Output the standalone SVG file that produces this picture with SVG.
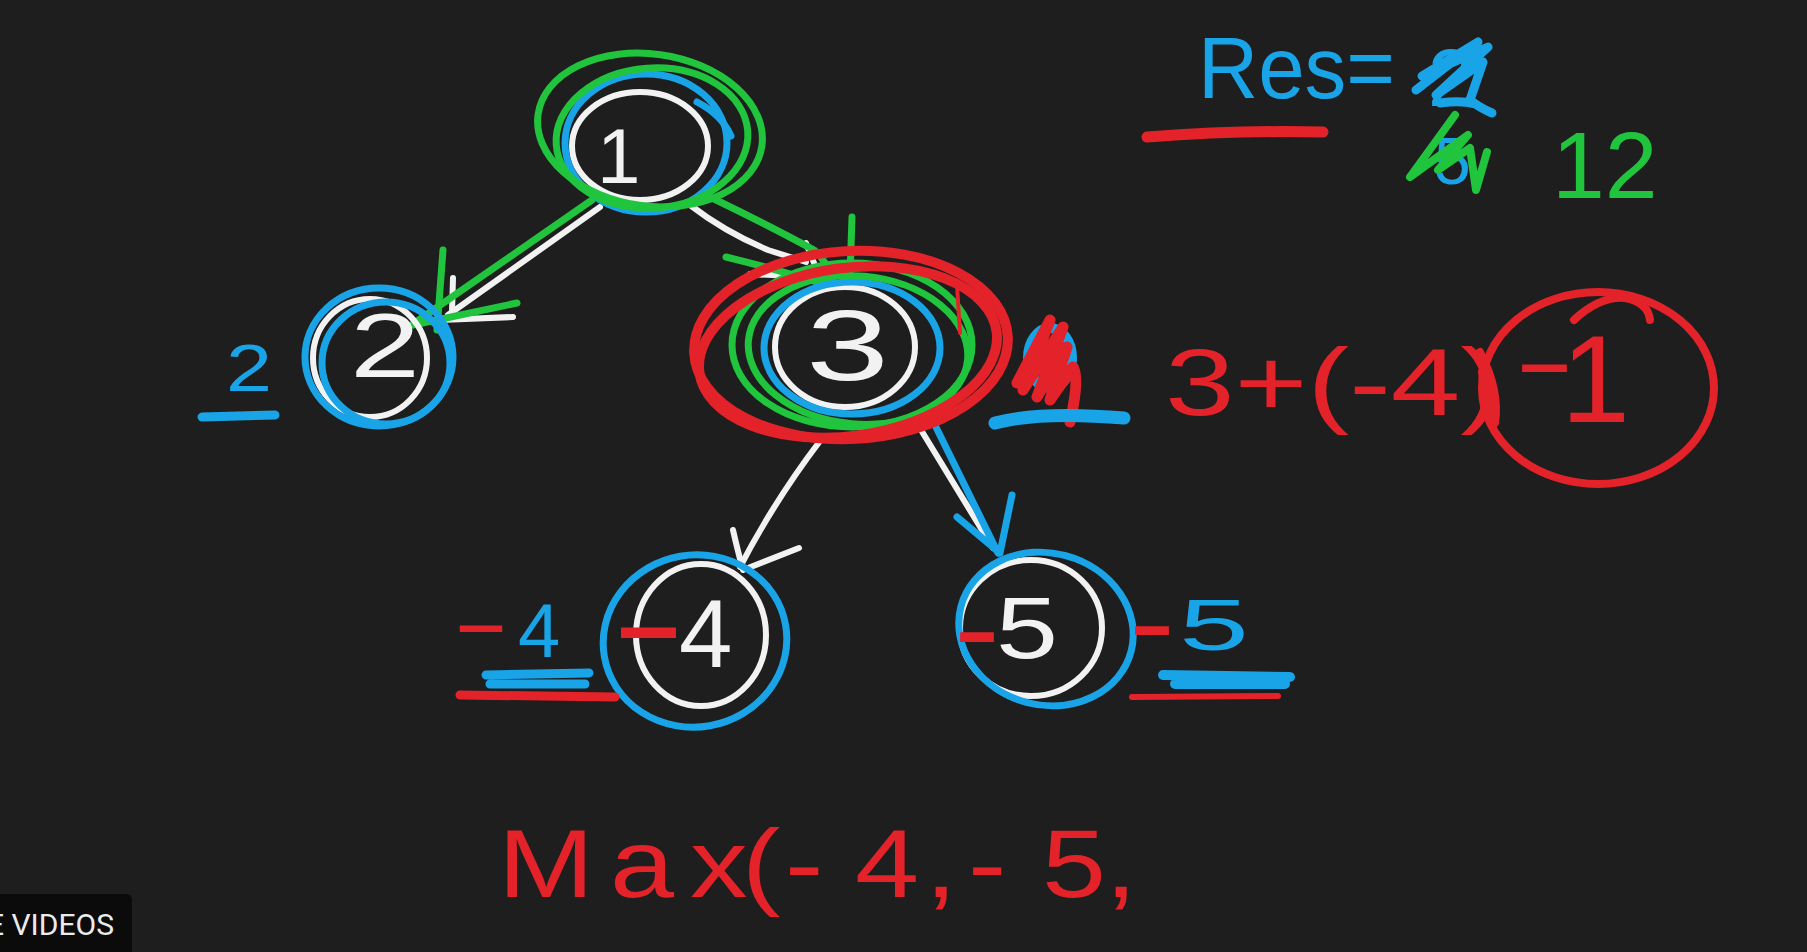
<svg xmlns="http://www.w3.org/2000/svg" width="1807" height="952" viewBox="0 0 1807 952">
<style>
.w{fill:none;stroke:#f2f2f2;stroke-width:6;stroke-linecap:round;stroke-linejoin:round}
.b{fill:none;stroke:#19a4e8;stroke-width:7;stroke-linecap:round;stroke-linejoin:round}
.g{fill:none;stroke:#20c53d;stroke-width:7;stroke-linecap:round;stroke-linejoin:round}
.r{fill:none;stroke:#e4222a;stroke-width:8;stroke-linecap:round;stroke-linejoin:round}
text{font-family:"Liberation Sans",Arial,sans-serif}
.tw{fill:#f2f2f2}.tb{fill:#19a4e8}.tg{fill:#20c53d}.tr{fill:#e4222a}
</style>
<rect width="1807" height="952" fill="#1e1e1e"/>

<g id="connectors">
  <!-- 1 -> 2 -->
  <path class="w" d="M600,207 L448,315"/>
  <path class="w" d="M453,278 L452,312 M440,320 L513,317"/>
  <path class="g" d="M592,200 L413,324"/>
  <path class="g" d="M443,250 L437,330 M413,325 L517,303"/>
  <!-- 1 -> 3 -->
  <path class="w" d="M690,205 Q725,232 768,250 L806,262"/>
  <path class="w" d="M806,243 L816,268 M750,274 L815,277"/>
  <path class="g" d="M712,198 Q770,226 814,250 Q828,262 833,283"/>
  <path class="g" d="M852,217 L850,276 M726,257 Q780,270 833,287"/>
  <circle cx="829" cy="283" r="8" fill="#20c53d"/>
  <!-- 3 -> 4 -->
  <path class="w" d="M820,441 Q775,500 740,567"/>
  <path class="w" d="M733,530 Q738,552 743,570 L799,548"/>
  <!-- 3 -> 5 -->
  <path class="w" d="M918,425 L993,548"/>
  <path class="b" d="M931,417 L998,553"/>
  <path class="b" d="M1012,495 L1000,553 M957,517 L1000,553"/>
</g>

<g id="node-1">
  <ellipse class="w" cx="640" cy="146" rx="68" ry="54"/>
  <ellipse class="b" cx="646" cy="143" rx="81" ry="69"/>
  <path class="b" d="M697,102 Q722,115 731,136"/>
  <ellipse class="g" cx="650" cy="130" rx="113" ry="76" transform="rotate(8 650 130)"/>
  <ellipse class="g" cx="652" cy="138" rx="96" ry="70" transform="rotate(-4 652 138)"/>
  <text class="tw" x="597" y="183" font-size="78">1</text>
</g>

<g id="node-2">
  <ellipse class="w" cx="370" cy="358" rx="57" ry="59"/>
  <ellipse class="b" cx="379" cy="357" rx="74" ry="69"/>
  <ellipse class="b" cx="386" cy="363" rx="64" ry="61"/>
  <text class="tw" x="350" y="377" font-size="90" textLength="70" lengthAdjust="spacingAndGlyphs">2</text>
</g>

<g id="node-3">
  <ellipse class="w" cx="845" cy="347" rx="70" ry="60"/>
  <ellipse class="b" cx="852" cy="348" rx="88" ry="66"/>
  <ellipse class="g" cx="852" cy="345" rx="120" ry="82"/>
  <ellipse class="g" cx="858" cy="350" rx="110" ry="74" transform="rotate(5 858 350)"/>
  <ellipse class="r" cx="851" cy="345" rx="157" ry="94" transform="rotate(-3 851 345)" style="stroke-width:10"/>
  <ellipse class="r" cx="848" cy="352" rx="150" ry="84" transform="rotate(-8 848 352)" style="stroke-width:10"/>
  <path class="r" d="M957,285 L960,333" style="stroke-width:4"/>
  <text class="tw" x="806" y="380" font-size="100" textLength="83" lengthAdjust="spacingAndGlyphs">3</text>
</g>

<g id="node-4">
  <ellipse class="w" cx="701" cy="635" rx="65" ry="71"/>
  <ellipse class="b" cx="695" cy="641" rx="92" ry="86" transform="rotate(-10 695 641)"/>
  <text class="tr" x="611" y="669" font-size="135" textLength="75" lengthAdjust="spacingAndGlyphs">-</text>
  <text class="tw" x="679" y="667" font-size="96">4</text>
</g>

<g id="node-5">
  <ellipse class="w" cx="1031" cy="628" rx="71" ry="68"/>
  <ellipse class="b" cx="1046" cy="629" rx="88" ry="76" transform="rotate(15 1046 629)"/>
  <text class="tr" x="954" y="670" font-size="124" textLength="46" lengthAdjust="spacingAndGlyphs">-</text>
  <text class="tw" x="996" y="658" font-size="88" textLength="62" lengthAdjust="spacingAndGlyphs">5</text>
</g>

<g id="label-node-2">
  <text class="tb" x="226" y="391" font-size="66" textLength="46" lengthAdjust="spacingAndGlyphs">2</text>
  <path class="b" d="M202,417 L275,415" style="stroke-width:9"/>
</g>

<g id="label-node-4">
  <text class="tr" x="452" y="651" font-size="84" textLength="58" lengthAdjust="spacingAndGlyphs">-</text>
  <text class="tb" x="518" y="657" font-size="76">4</text>
  <path class="b" d="M486,675 L589,673 M490,684 L585,684" style="stroke-width:9"/>
  <path class="r" d="M460,695 L615,697" style="stroke-width:9"/>
</g>

<g id="label-node-5">
  <text class="tr" x="1129" y="660" font-size="112" textLength="46" lengthAdjust="spacingAndGlyphs">-</text>
  <text class="tb" x="1179" y="650" font-size="72" textLength="70" lengthAdjust="spacingAndGlyphs">5</text>
  <path class="b" d="M1163,675 L1290,677 M1175,684 L1285,684" style="stroke-width:10"/>
  <path class="r" d="M1132,697 L1278,696" style="stroke-width:6"/>
</g>

<g id="label-node-3">
  <ellipse class="b" cx="1050" cy="358" rx="22" ry="30" style="stroke-width:10"/>
  <path class="r" d="M1017,383 L1050,320 L1023,390 L1063,327 L1037,397 L1067,347 L1050,400 L1073,367 Q1080,378 1070,422" style="stroke-width:11"/>
  <path class="b" d="M995,423 Q1040,411 1124,418" style="stroke-width:13"/>
</g>

<g id="result">
  <text class="tb" x="1198" y="98" font-size="88" textLength="197" lengthAdjust="spacingAndGlyphs">Res=</text>
  <path class="r" d="M1147,137 Q1240,130 1323,132" style="stroke-width:11"/>
  <text class="tb" x="1428" y="106" font-size="82">2</text>
  <path class="b" d="M1416,90 L1478,42 L1422,76 L1488,47 L1436,95 L1483,62 L1470,100 Q1480,108 1492,113 M1440,103 Q1462,100 1475,104" style="stroke-width:9"/>
  <text class="tb" x="1434" y="184" font-size="66">5</text>
  <path class="g" d="M1455,115 L1410,177 L1468,135 L1438,170 L1470,148 L1476,190 L1487,152" style="stroke-width:8"/>
  <text class="tg" x="1552" y="198" font-size="95">12</text>
</g>

<g id="calculation">
  <text class="tr" x="1165" y="415" font-size="95" textLength="337" lengthAdjust="spacingAndGlyphs">3+(-4)</text>
  <ellipse class="r" cx="1598" cy="388" rx="116" ry="96"/>
  <path class="r" d="M1480,352 Q1500,390 1495,423 Q1485,400 1482,372"/>
  <path class="r" d="M1574,320 Q1600,296 1625,298 Q1648,302 1650,320"/>
  <text class="tr" x="1514" y="394" font-size="96" textLength="61" lengthAdjust="spacingAndGlyphs">-</text>
  <text class="tr" x="1561" y="422" font-size="124">1</text>
</g>

<g id="max-expression">
  <text class="tr" transform="scale(1.2 1)" x="415 508.3 575 618.3 654.2 712.5 770.8 806.7 868.3 920.8" y="897" font-size="96">Max(-4,-5,</text>
</g>

<g id="overlay-button">
  <rect x="-10" y="894" width="142" height="70" rx="6" fill="#0b0b0b"/>
  <text x="-13" y="935" font-size="30" fill="#ebebeb" style="font-family:Roboto,'Liberation Sans',sans-serif">E VIDEOS</text>
</g>
</svg>
